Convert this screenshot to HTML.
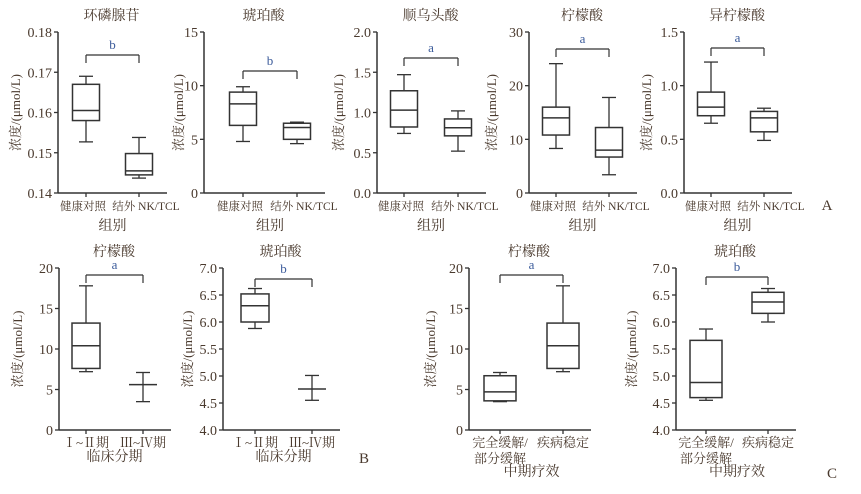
<!DOCTYPE html>
<html><head><meta charset="utf-8"><style>
body{margin:0;background:#fff}
svg text{font-family:"Liberation Serif","Noto Serif CJK SC",serif;fill:#4a3a2e}
</style></head><body>
<svg id="fig" width="861" height="489" viewBox="0 0 861 489" xmlns="http://www.w3.org/2000/svg"></svg>
<script>
// Data: five-number summaries [max, q3, median, q1, min] per group
const p1Title="环磷腺苷", p1Ticks=[0.14,0.15,0.16,0.17,0.18], p1G1=[0.169,0.167,0.1605,0.158,0.1527], p1G2=[0.1538,0.1498,0.1455,0.1445,0.1437];
const p2Title="琥珀酸", p2Ticks=[0,5,10,15], p2G1=[9.9,9.4,8.3,6.3,4.8], p2G2=[6.6,6.5,6.1,5.0,4.6];
const p3Title="顺乌头酸", p3Ticks=[0,0.5,1.0,1.5,2.0], p3G1=[1.47,1.27,1.03,0.82,0.74], p3G2=[1.02,0.92,0.81,0.71,0.52];
const p4Title="柠檬酸", p4Ticks=[0,10,20,30], p4G1=[24.1,16,14,10.8,8.3], p4G2=[17.8,12.2,8.0,6.7,3.4];
const p5Title="异柠檬酸", p5Ticks=[0,0.5,1.0,1.5], p5G1=[1.22,0.94,0.80,0.72,0.65], p5G2=[0.79,0.76,0.70,0.57,0.49];
const b1Title="柠檬酸", b1Ticks=[0,5,10,15,20], b1G1=[17.8,13.2,10.4,7.6,7.2], b1G2=[7.1,5.6,5.6,5.6,3.5];
const b2Title="琥珀酸", b2Ticks=[4.0,4.5,5.0,5.5,6.0,6.5,7.0], b2G1=[6.62,6.52,6.30,6.00,5.88], b2G2=[5.01,4.76,4.76,4.76,4.55];
const c1Title="柠檬酸", c1Ticks=[0,5,10,15,20], c1G1=[7.1,6.7,4.7,3.6,3.5], c1G2=[17.8,13.2,10.4,7.6,7.2];
const c2Title="琥珀酸", c2Ticks=[4.0,4.5,5.0,5.5,6.0,6.5,7.0], c2G1=[5.87,5.66,4.88,4.60,4.55], c2G2=[6.62,6.55,6.37,6.16,6.00];
const catsA=["健康对照","结外 NK/TCL"], catsB=["Ⅰ~Ⅱ期","Ⅲ~Ⅳ期"], catsC=[["完全缓解/","部分缓解"],["疾病稳定"]];
const sigLetters=["b","b","a","a","a","a","b","a","b"];

const NS="http://www.w3.org/2000/svg", svg=document.getElementById('fig');
function mk(tag,attrs,parent){const e=document.createElementNS(NS,tag);for(const k in attrs)e.setAttribute(k,attrs[k]);(parent||svg).appendChild(e);return e;}
function line(g,x1,y1,x2,y2,w){return mk('line',{x1,y1,x2,y2,stroke:'#333','stroke-width':w||1.3},g);}
function fmt(t,ticks){const dec=Math.max(...ticks.map(v=>{const s=String(v);return s.includes('.')?s.split('.')[1].length:0}));return t.toFixed(dec);}

function panel(o){
  const g=mk('g',{});
  
  
  const lo=o.ticks[0],hi=o.ticks[o.ticks.length-1];
  const y=v=>o.bot-(v-lo)/(hi-lo)*(o.bot-o.top);
  const xs=[o.c1,o.c2];
  const t=mk('text',{x:(o.ax+o.c2+20)/2+3,y:o.top-12,'font-size':14,'text-anchor':'middle'},g);t.textContent=o.title;
  
  line(g,o.ax,o.top,o.ax,o.bot,1.5);
  line(g,o.ax,o.bot,o.c2+28,o.bot,1.5);
  o.ticks.forEach(tv=>{const yy=y(tv);line(g,o.ax-4,yy,o.ax,yy,1.3);
    const tx=mk('text',{x:o.ax-6,y:yy+5,'font-size':14,'text-anchor':'end'},g);tx.textContent=fmt(tv,o.ticks);
    });
  xs.forEach(cx=>line(g,cx,o.bot,cx,o.bot+4,1.3));
  const yl=mk('text',{x:0,y:0,'font-size':13,'text-anchor':'middle',transform:`translate(${o.lx},${(o.top+o.bot)/2}) rotate(-90)`},g);
  yl.textContent='浓度/(μmol/L)';
  
  [o.g1,o.g2].forEach((s,i)=>{
    const cx=xs[i],bw=o.bw,cw=7;
    const bg=mk('g',{},g);
    
    
    line(bg,cx,y(s[0]),cx,y(s[1]));line(bg,cx,y(s[3]),cx,y(s[4]));
    line(bg,cx-cw,y(s[0]),cx+cw,y(s[0]));line(bg,cx-cw,y(s[4]),cx+cw,y(s[4]));
    if(s[1]!==s[3]) mk('rect',{x:cx-bw/2,y:y(s[1]),width:bw,height:y(s[3])-y(s[1]),fill:'none',stroke:'#333','stroke-width':1.5},bg);
    line(bg,cx-bw/2,y(s[2]),cx+bw/2,y(s[2]),1.5);
  });
  const by=o.bracket;
  line(g,o.c1,by,o.c2,by,1.2);line(g,o.c1,by,o.c1,by+8,1.2);line(g,o.c2,by,o.c2,by+8,1.2);
  const sl=mk('text',{x:(o.c1+o.c2)/2,y:by-6,'font-size':13,'text-anchor':'middle'},g);sl.textContent=o.sig;
  sl.style.fill='#3a5a9a';
  
  o.cats.forEach((c,i)=>{const lines=Array.isArray(c)?c:[c];
    lines.forEach((s,j)=>{const tx=mk('text',{x:xs[i]+(o.xoff?o.xoff[i]:0),y:o.bot+17+j*16,'font-size':o.cfs||13,'text-anchor':'middle'},g);tx.textContent=s;
      });});
  const xt=mk('text',{x:(o.c1+o.c2)/2,y:o.xty,'font-size':14,'text-anchor':'middle'},g);xt.textContent=o.xtitle;
  
}
const T=32,B=193,T2=268,B2=430,XO=[-3,7];
panel({name:'panel-camp',title:p1Title,ticks:p1Ticks,g1:p1G1,g2:p1G2,ax:58,c1:86,c2:139,top:T,bot:B,bw:27,lx:20,bracket:55,sig:sigLetters[0],cats:catsA,cfs:11.5,xoff:XO,xtitle:'组别',xty:230});
panel({name:'panel-succinate-a',title:p2Title,ticks:p2Ticks,g1:p2G1,g2:p2G2,ax:204,c1:243,c2:297,top:T,bot:B,bw:27,lx:183,bracket:71,sig:sigLetters[1],cats:catsA,cfs:11.5,xoff:XO,xtitle:'组别',xty:230});
panel({name:'panel-aconitate',title:p3Title,ticks:p3Ticks,g1:p3G1,g2:p3G2,ax:377,c1:404,c2:458,top:T,bot:B,bw:27,lx:343,bracket:58,sig:sigLetters[2],cats:catsA,cfs:11.5,xoff:XO,xtitle:'组别',xty:230});
panel({name:'panel-citrate-a',title:p4Title,ticks:p4Ticks,g1:p4G1,g2:p4G2,ax:529,c1:556,c2:609,top:T,bot:B,bw:27,lx:496,bracket:49,sig:sigLetters[3],cats:catsA,cfs:11.5,xoff:XO,xtitle:'组别',xty:230});
panel({name:'panel-isocitrate',title:p5Title,ticks:p5Ticks,g1:p5G1,g2:p5G2,ax:684,c1:711,c2:764,top:T,bot:B,bw:27,lx:651,bracket:48,sig:sigLetters[4],cats:catsA,cfs:11.5,xoff:XO,xtitle:'组别',xty:230});
panel({name:'panel-citrate-b',title:b1Title,ticks:b1Ticks,g1:b1G1,g2:b1G2,ax:59,c1:86,c2:143,top:T2,bot:B2,bw:28,lx:22,bracket:275,sig:sigLetters[5],cats:catsB,xtitle:'临床分期',xty:461});
panel({name:'panel-succinate-b',title:b2Title,ticks:b2Ticks,g1:b2G1,g2:b2G2,ax:223,c1:255,c2:312,top:T2,bot:B2,bw:28,lx:192,bracket:279,sig:sigLetters[6],cats:catsB,xtitle:'临床分期',xty:461});
panel({name:'panel-citrate-c',title:c1Title,ticks:c1Ticks,g1:c1G1,g2:c1G2,ax:469,c1:500,c2:563,top:T2,bot:B2,bw:32,lx:435,bracket:275,sig:sigLetters[7],cats:catsC,xtitle:'中期疗效',xty:476});
panel({name:'panel-succinate-c',title:c2Title,ticks:c2Ticks,g1:c2G1,g2:c2G2,ax:676,c1:706,c2:768,top:T2,bot:B2,bw:32,lx:636,bracket:277,sig:sigLetters[8],cats:catsC,xtitle:'中期疗效',xty:476});
[['A',827,210],['B',364,463],['C',832,478]].forEach(p=>{const t=mk('text',{x:p[1],y:p[2],'font-size':15,'text-anchor':'middle'});t.textContent=p[0];

});
</script>
</body></html>
